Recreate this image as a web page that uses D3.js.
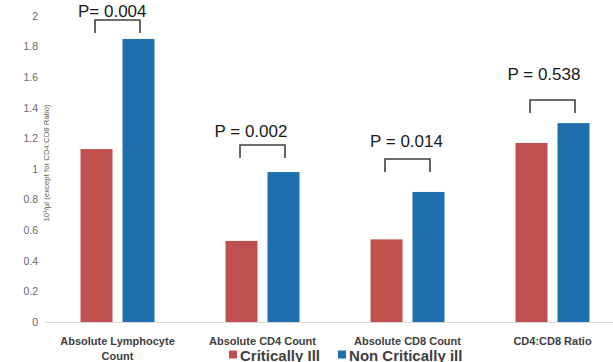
<!DOCTYPE html>
<html><head><meta charset="utf-8">
<script src="https://cdn.jsdelivr.net/npm/d3@7"></script>
<style>body{margin:0;background:#fff;}svg{display:block;}</style>
</head><body>
<svg id="chart" width="613" height="362"></svg>
<script>
const categories = [["Absolute Lymphocyte","Count"],["Absolute CD4 Count"],["Absolute CD8 Count"],["CD4:CD8 Ratio"]];
const seriesNames = ["Critically Ill","Non Critically ill"];
const criticallyIll = [1.13, 0.53, 0.54, 1.17];
const nonCriticallyIll = [1.85, 0.98, 0.85, 1.30];
const pLabels = ["P= 0.004","P = 0.002","P = 0.014","P = 0.538"];
const pBracketY = [1.974, 1.157, 1.065, 1.451];
const pTextY = [1.993, 1.209, 1.144, 1.582];
const pTextDx = [-39.5, -48, -37.5, -45];
const yTicks = [0,0.2,0.4,0.6,0.8,1,1.2,1.4,1.6,1.8,2];
const yLabel = "10³/µl (except for CD4:CD8 Ratio)";
const colors = ["#c0504d","#1f6ead"];

const svg = d3.select("#chart");
const catKeys = categories.map(c=>c.join(" "));
const x0 = d3.scaleBand().domain(catKeys).range([45,625]).paddingInner(0.49).paddingOuter(0.245);
const x1 = d3.scaleBand().domain(seriesNames).range([0,x0.bandwidth()]).paddingInner(0.238);
const y = d3.scaleLinear().domain([0,2]).range([322,16]);

// y axis
const yAxis = d3.axisLeft(y).tickValues(yTicks).tickSize(0).tickPadding(0).tickFormat(d=>d3.format("")(+d.toFixed(1)));
const yg = svg.append("g").attr("transform","translate(38,0)").call(yAxis);
yg.select(".domain").remove();
yg.selectAll("text").attr("fill","#6a6a6a").style("font-family","Liberation Sans, Arial, sans-serif").style("font-size","10.5px");

svg.append("text").attr("transform","translate(49,163) rotate(-90)").attr("text-anchor","middle")
  .attr("fill","#595959").style("font-family","Liberation Sans, Arial, sans-serif").style("font-size","7.8px").text(yLabel);

// x axis line
svg.append("line").attr("x1",45).attr("x2",613).attr("y1",y(0)+0.5).attr("y2",y(0)+0.5).attr("stroke","#d9d9d9").attr("stroke-width",1);

// bars
const data = catKeys.map((k,i)=>({key:k, vals:[criticallyIll[i], nonCriticallyIll[i]]}));
const groups = svg.append("g").selectAll("g").data(data).join("g").attr("transform",d=>`translate(${x0(d.key)},0)`);
groups.selectAll("rect").data(d=>d.vals.map((v,j)=>({s:seriesNames[j],v,j}))).join("rect")
  .attr("x",d=>x1(d.s)).attr("width",x1.bandwidth())
  .attr("y",d=>y(d.v)).attr("height",d=>y(0)-y(d.v)).attr("fill",d=>colors[d.j]);

// category labels
const cl = svg.append("g").selectAll("text").data(categories).join("text")
  .attr("x",(d,i)=>x0(catKeys[i])+x0.bandwidth()/2).attr("y",345).attr("text-anchor","middle")
  .attr("fill","#404040").style("font-family","Liberation Sans, Arial, sans-serif").style("font-size","11px").style("font-weight","bold");
cl.selectAll("tspan").data(d=>d).join("tspan").attr("x",function(){return d3.select(this.parentNode).attr("x");})
  .attr("dy",(d,i)=>i===0?0:15).text(d=>d);

// brackets and p labels
catKeys.forEach((k,i)=>{
  const xa = x0(k)+x1(seriesNames[0])+x1.bandwidth()/2;
  const xb = x0(k)+x1(seriesNames[1])+x1.bandwidth()/2;
  const yt = y(pBracketY[i]);
  svg.append("path").attr("d",`M${xa-1.5},${yt+13}V${yt}H${xb+1.5}V${yt+13}`).attr("fill","none").attr("stroke","#404040").attr("stroke-width",1.6);
  svg.append("text").attr("x",x0(k)+x0.bandwidth()/2+pTextDx[i]).attr("y",y(pTextY[i]))
    .attr("fill","#1a1a1a").style("font-family","Liberation Sans, Arial, sans-serif").style("font-size","17px").text(pLabels[i]);
});

// legend
const lg = svg.append("g").attr("transform","translate(229,355)");
let lx = 0;
seriesNames.forEach((s,j)=>{
  lg.append("rect").attr("x",lx).attr("y",-4.5).attr("width",8).attr("height",8).attr("fill",colors[j]);
  const t = lg.append("text").attr("x",lx+11).attr("y",5.5).attr("fill","#404040")
    .style("font-family","Liberation Sans, Arial, sans-serif").style("font-size","15px").style("font-weight","bold").text(s);
  lx += 11 + t.node().getComputedTextLength() + 18;
});
</script>
</body></html>
